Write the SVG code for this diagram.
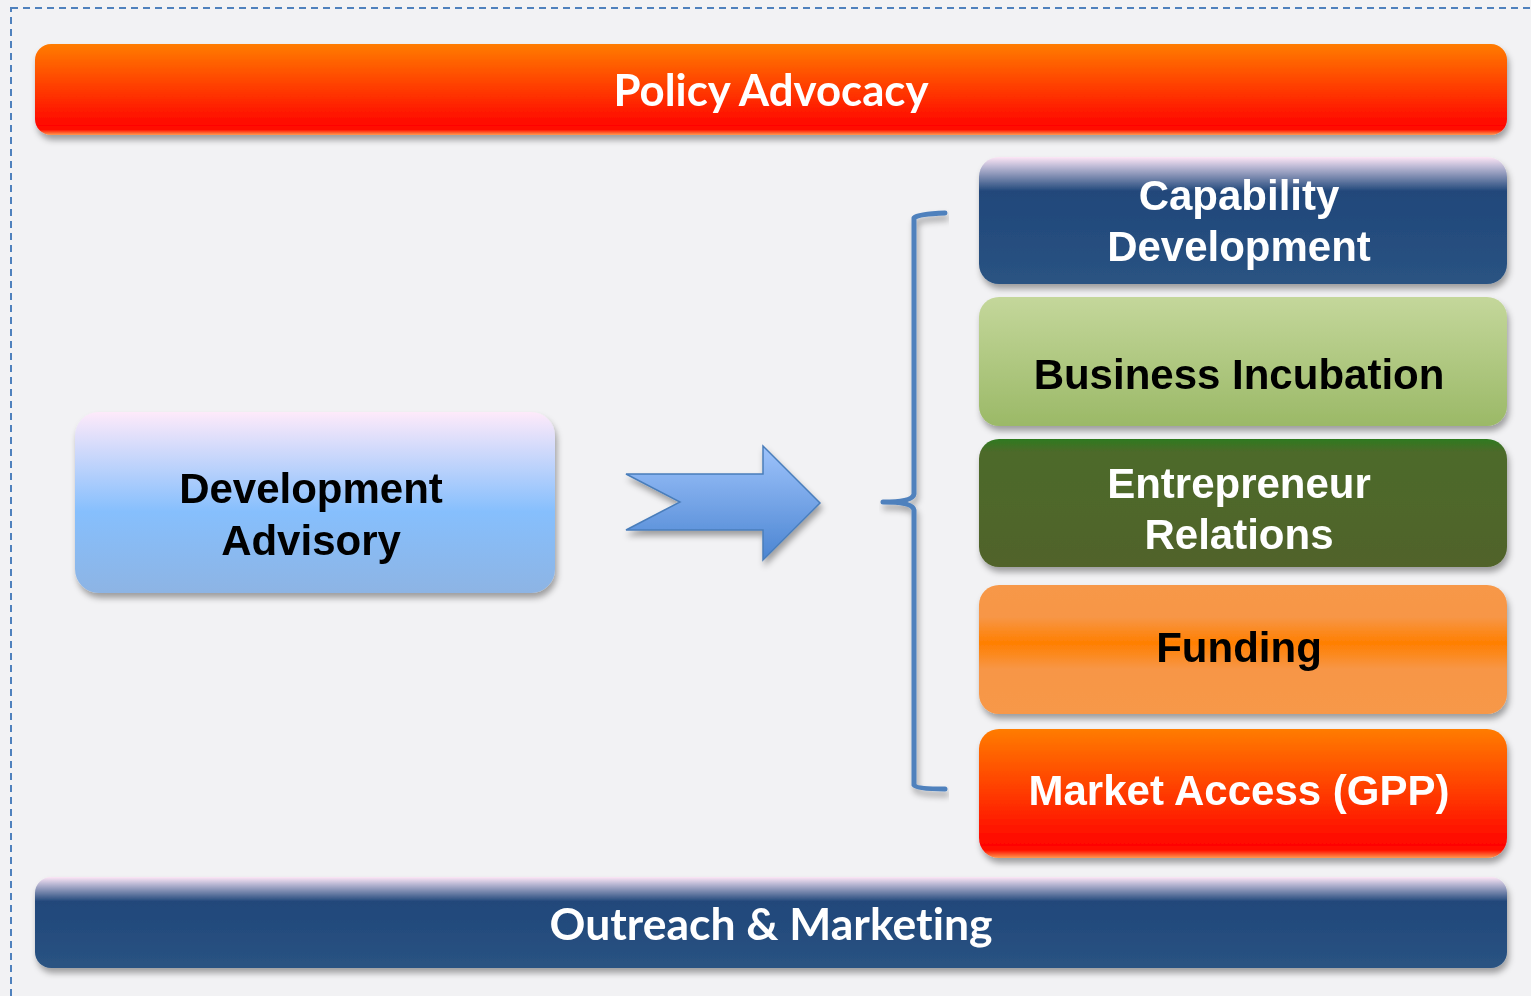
<svg xmlns="http://www.w3.org/2000/svg" width="1531" height="996" viewBox="0 0 1531 996">
<defs>
<style>
.sans{font-family:"Liberation Sans",Arial,sans-serif;font-weight:bold;font-size:42px;text-anchor:middle}
.cal{font-family:Lato,"Open Sans",sans-serif;font-weight:bold;font-size:44px;text-anchor:middle;fill:#fff;font-variant-ligatures:none}
.w{fill:#fff}.k{fill:#000}
.brace{fill:none;stroke:#4f81bd;stroke-width:5;stroke-linecap:round;stroke-linejoin:round}
</style>
<filter id="sh" x="-5%" y="-10%" width="110%" height="130%">
<feDropShadow dx="2" dy="5" stdDeviation="3" flood-color="#000" flood-opacity="0.35"/>
</filter>
<linearGradient id="gRed" x1="0" y1="0" x2="0" y2="1">
<stop offset="0" stop-color="#ff7c00"/><stop offset="0.9" stop-color="#ff0500"/><stop offset="0.94" stop-color="#ff1000"/><stop offset="1" stop-color="#ff9a50"/>
</linearGradient>
<linearGradient id="gBlue" x1="0" y1="0" x2="0" y2="1">
<stop offset="0" stop-color="#fde6f6"/><stop offset="0.08" stop-color="#b9b7d3"/><stop offset="0.27" stop-color="#20477a"/><stop offset="1" stop-color="#2a5382"/>
</linearGradient>
<linearGradient id="gGreen" x1="0" y1="0" x2="0" y2="1">
<stop offset="0" stop-color="#c4d79b"/><stop offset="1" stop-color="#9bb967"/>
</linearGradient>
<linearGradient id="gDark" x1="0" y1="0" x2="0" y2="1">
<stop offset="0" stop-color="#2e7a1f"/><stop offset="0.1" stop-color="#4d6a2a"/><stop offset="1" stop-color="#516329"/>
</linearGradient>
<linearGradient id="gOrange" x1="0" y1="0" x2="0" y2="1">
<stop offset="0" stop-color="#f79848"/><stop offset="0.25" stop-color="#f79646"/><stop offset="0.45" stop-color="#ff7f00"/><stop offset="0.65" stop-color="#f79646"/><stop offset="1" stop-color="#f79848"/>
</linearGradient>
<linearGradient id="gAdv" x1="0" y1="0" x2="0" y2="1">
<stop offset="0" stop-color="#feeafa"/><stop offset="0.55" stop-color="#86bffd"/><stop offset="1" stop-color="#8db4e4"/>
</linearGradient>
<linearGradient id="gArrow" x1="0" y1="0" x2="0" y2="1">
<stop offset="0" stop-color="#9ec3fb"/><stop offset="1" stop-color="#4b85d2"/>
</linearGradient>
</defs>
<rect x="0" y="0" width="1531" height="996" fill="#f2f2f4"/>
<rect x="11" y="8" width="1540" height="1000" fill="none" stroke="#4f81bd" stroke-width="2" stroke-dasharray="7 5"/>

<g id="policy-advocacy" filter="url(#sh)">
<rect x="35" y="44" width="1472" height="91" rx="16" fill="url(#gRed)"/>
<text class="cal" x="771" y="106" textLength="315" lengthAdjust="spacingAndGlyphs">Policy Advocacy</text>
</g>

<g id="development-advisory" filter="url(#sh)">
<rect x="75" y="412" width="480" height="181" rx="24" fill="url(#gAdv)"/>
<text class="sans k" x="311" y="503">Development</text>
<text class="sans k" x="311" y="555">Advisory</text>
</g>

<g id="capability-development" filter="url(#sh)">
<rect x="979" y="157" width="528" height="127" rx="20" fill="url(#gBlue)"/>
<text class="sans w" x="1239" y="210">Capability</text>
<text class="sans w" x="1239" y="261">Development</text>
</g>

<g id="business-incubation" filter="url(#sh)">
<rect x="979" y="297" width="528" height="129" rx="20" fill="url(#gGreen)"/>
<text class="sans k" x="1239" y="389">Business Incubation</text>
</g>

<g id="entrepreneur-relations" filter="url(#sh)">
<rect x="979" y="439" width="528" height="128" rx="20" fill="url(#gDark)"/>
<text class="sans w" x="1239" y="498">Entrepreneur</text>
<text class="sans w" x="1239" y="549">Relations</text>
</g>

<g id="funding" filter="url(#sh)">
<rect x="979" y="585" width="528" height="129" rx="20" fill="url(#gOrange)"/>
<text class="sans k" x="1239" y="662">Funding</text>
</g>

<g id="market-access" filter="url(#sh)">
<rect x="979" y="729" width="528" height="129" rx="20" fill="url(#gRed)"/>
<text class="sans w" x="1239" y="805">Market Access (GPP)</text>
</g>

<g id="outreach-marketing" filter="url(#sh)">
<rect x="35" y="877" width="1472" height="91" rx="16" fill="url(#gBlue)"/>
<text class="cal" x="771" y="940" textLength="443" lengthAdjust="spacingAndGlyphs">Outreach &amp; Marketing</text>
</g>

<g id="connectors">
<path d="M626,474 L763,474 L763,446 L820,503 L763,560 L763,530 L626,530 L680,502 Z" fill="url(#gArrow)" stroke="#4a7ebb" stroke-width="1.5" filter="url(#sh)"/>
<path class="brace" d="M945,213 Q918,214 914,218 L914,494 Q913,502 883,502 Q913,502 914,510 L914,785 Q916,789 945,789" filter="url(#sh)"/>
</g>
</svg>
